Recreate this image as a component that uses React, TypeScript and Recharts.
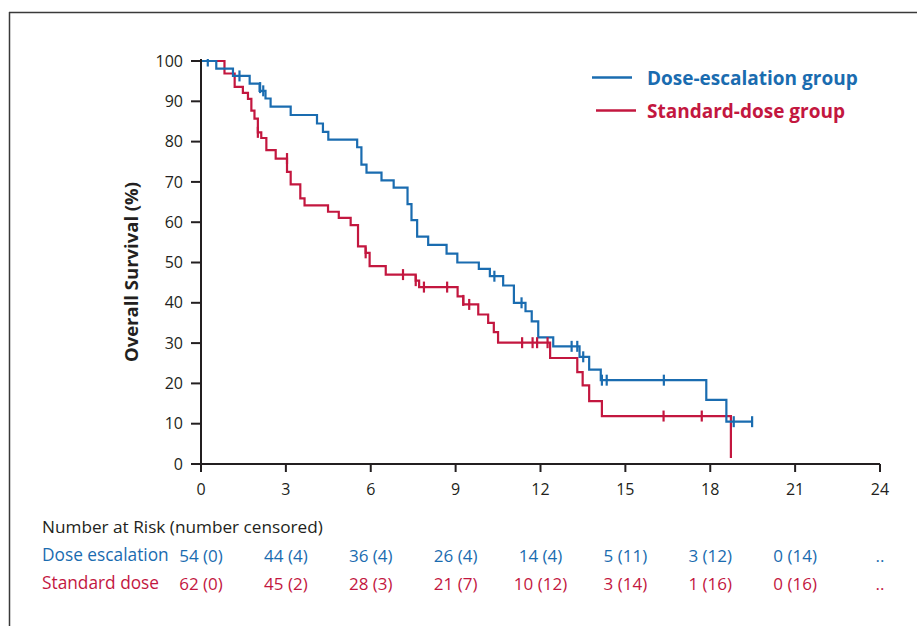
import React from 'react';
import { ComposedChart, Line, Scatter, XAxis, YAxis } from 'recharts';

const BLUE = '#1a6cb0';
const RED = '#c3173f';
const INK = '#231f20';
const FONT = '"Open Sans", "Noto Sans", sans-serif';

const monthTicks = [0, 3, 6, 9, 12, 15, 18, 21, 24];
const survivalTicks = [0, 10, 20, 30, 40, 50, 60, 70, 80, 90, 100];

// Kaplan-Meier step points: [month, survival %]
const doseEscalationSteps: [number, number][] = [
  [0, 100], [0.54, 98.1], [1.13, 96.3], [1.72, 94.4], [2.07, 92.6], [2.28, 90.7],
  [2.46, 88.7], [3.17, 86.6], [4.1, 84.5], [4.31, 82.4], [4.5, 80.5], [5.52, 78.6],
  [5.67, 74.3], [5.85, 72.3], [6.38, 70.4], [6.81, 68.6], [7.3, 64.5], [7.44, 60.5],
  [7.64, 56.4], [8.03, 54.4], [8.68, 52.2], [9.06, 50.0], [9.82, 48.4], [10.21, 46.6],
  [10.68, 44.3], [11.06, 40.0], [11.47, 37.9], [11.69, 35.4], [11.92, 31.4], [12.45, 29.2],
  [13.38, 26.6], [13.72, 23.4], [14.13, 20.8], [17.86, 15.9], [18.57, 10.5], [19.48, 10.5],
];
const doseEscalationCensored: [number, number][] = [
  [0.24, 100], [1.36, 96.3], [2.09, 93.4], [2.2, 92.6], [10.37, 46.6], [11.33, 40.0],
  [13.1, 29.2], [13.3, 29.2], [13.51, 26.6], [14.17, 20.8], [14.34, 20.8], [16.36, 20.8],
  [18.83, 10.5], [19.48, 10.5],
];

const standardDoseSteps: [number, number][] = [
  [0, 100], [0.83, 96.9], [1.19, 93.6], [1.48, 92.1], [1.66, 90.6], [1.78, 87.7],
  [1.89, 85.7], [2.01, 82.3], [2.13, 80.9], [2.31, 77.9], [2.64, 75.8], [3.04, 72.5],
  [3.17, 69.4], [3.51, 65.9], [3.66, 64.2], [4.49, 62.6], [4.87, 61.1], [5.29, 59.3],
  [5.55, 54.0], [5.82, 52.4], [5.96, 49.1], [6.53, 47.0], [7.59, 45.5], [7.71, 43.9],
  [9.07, 41.6], [9.27, 39.6], [9.8, 37.1], [10.15, 35.0], [10.35, 32.7], [10.5, 30.1],
  [12.34, 26.3], [13.3, 22.8], [13.49, 19.5], [13.72, 15.6], [14.17, 11.9], [18.73, 1.5],
];
const standardDoseCensored: [number, number][] = [
  [2.01, 82.3], [3.04, 75.8], [5.82, 52.4], [7.14, 47.0], [7.59, 45.5], [7.88, 43.9],
  [8.7, 43.9], [9.27, 40.6], [9.48, 39.6], [11.35, 30.1], [11.72, 30.1], [11.88, 30.1],
  [12.25, 30.1], [16.35, 11.9], [17.7, 11.9],
];

const doseEscalationAtRisk = ['54 (0)', '44 (4)', '36 (4)', '26 (4)', '14 (4)', '5 (11)', '3 (12)', '0 (14)', '..'];
const standardDoseAtRisk = ['62 (0)', '45 (2)', '28 (3)', '21 (7)', '10 (12)', '3 (14)', '1 (16)', '0 (16)', '..'];

const toPoints = (arr: [number, number][]) => arr.map(([m, v]) => ({ m, v }));
const anchorPoints = monthTicks.map((m) => ({ m, v: 0 }));

const makeCensorMark = (color: string) => (props: any) => {
  const { cx, cy } = props;
  if (cx == null || cy == null) return <g />;
  return <line x1={cx} x2={cx} y1={cy - 5.5} y2={cy + 5.5} stroke={color} strokeWidth={2.2} />;
};
const EmptyShape = () => <g />;

export default function App() {
  return (
    <div style={{ position: 'fixed', left: 0, top: 0, width: 917, height: 626, background: '#fff', fontFamily: FONT }}>
      <ComposedChart
        width={917}
        height={626}
        margin={{ top: 59, right: 37, left: 151, bottom: 18.5 }}
      >
        <XAxis
          xAxisId={0}
          dataKey="m"
          type="number"
          domain={[0, 24]}
          ticks={monthTicks}
          height={85.5}
          tickSize={8}
          tickMargin={12}
          axisLine={{ stroke: INK, strokeWidth: 2 }}
          tickLine={{ stroke: INK, strokeWidth: 2 }}
          tick={{ fill: INK, fontSize: 16, fontFamily: FONT }}
          interval={0}
          allowDataOverflow
        />
        <XAxis
          xAxisId="riskBlue"
          dataKey="m"
          type="number"
          domain={[0, 24]}
          ticks={monthTicks}
          height={28}
          tickSize={0}
          tickMargin={0}
          axisLine={false}
          tickLine={false}
          interval={0}
          tick={{ fill: BLUE, fontSize: 17, fontFamily: FONT }}
          tickFormatter={(_v: any, i: number) => doseEscalationAtRisk[i]}
        />
        <XAxis
          xAxisId="riskRed"
          dataKey="m"
          type="number"
          domain={[0, 24]}
          ticks={monthTicks}
          height={30}
          tickSize={0}
          tickMargin={0}
          axisLine={false}
          tickLine={false}
          interval={0}
          tick={{ fill: RED, fontSize: 17, fontFamily: FONT }}
          tickFormatter={(_v: any, i: number) => standardDoseAtRisk[i]}
        />
        <YAxis
          dataKey="v"
          type="number"
          domain={[0, 100.5]}
          ticks={survivalTicks}
          width={50}
          tickSize={10}
          tickMargin={8}
          interval={0}
          axisLine={{ stroke: INK, strokeWidth: 2 }}
          tickLine={{ stroke: INK, strokeWidth: 2 }}
          tick={{ fill: INK, fontSize: 16, fontFamily: FONT }}
          allowDataOverflow
        />
        <Line
          data={toPoints(standardDoseSteps)}
          dataKey="v"
          type="stepAfter"
          stroke={RED}
          strokeWidth={2.2}
          dot={false}
          activeDot={false}
          isAnimationActive={false}
        />
        <Line
          data={toPoints(doseEscalationSteps)}
          dataKey="v"
          type="stepAfter"
          stroke={BLUE}
          strokeWidth={2.2}
          dot={false}
          activeDot={false}
          isAnimationActive={false}
        />
        <Scatter
          data={toPoints(standardDoseCensored)}
          dataKey="v"
          fill={RED}
          shape={makeCensorMark(RED)}
          isAnimationActive={false}
        />
        <Scatter
          data={toPoints(doseEscalationCensored)}
          dataKey="v"
          fill={BLUE}
          shape={makeCensorMark(BLUE)}
          isAnimationActive={false}
        />
        <Scatter
          xAxisId="riskBlue"
          data={anchorPoints}
          dataKey="v"
          shape={EmptyShape}
          isAnimationActive={false}
        />
        <Scatter
          xAxisId="riskRed"
          data={anchorPoints}
          dataKey="v"
          shape={EmptyShape}
          isAnimationActive={false}
        />
      </ComposedChart>
      <svg
        width={917}
        height={626}
        style={{ position: 'absolute', left: 0, top: 0, pointerEvents: 'none' }}
      >
        <line x1={9} x2={917} y1={12.5} y2={12.5} stroke="#3a3a3a" strokeWidth={1.5} />
        <line x1={9.5} x2={9.5} y1={12} y2={626} stroke="#3a3a3a" strokeWidth={1.5} />

        <text
          transform="translate(138,272) rotate(-90)"
          textAnchor="middle"
          fontFamily={FONT}
          fontWeight={700}
          fontSize={18.5}
          fill={INK}
        >
          Overall Survival (%)
        </text>

        <line x1={592} x2={632} y1={77.5} y2={77.5} stroke={BLUE} strokeWidth={2.5} />
        <text x={647} y={84.5} fontFamily={FONT} fontWeight={700} fontSize={19} fill={BLUE}>
          Dose-escalation group
        </text>
        <line x1={596} x2={636} y1={110.5} y2={110.5} stroke={RED} strokeWidth={2.5} />
        <text x={647} y={117.5} fontFamily={FONT} fontWeight={700} fontSize={19} fill={RED}>
          Standard-dose group
        </text>

        <text x={42} y={533} fontFamily={FONT} fontSize={17.2} fill={INK}>
          Number at Risk (number censored)
        </text>
        <text x={42} y={561} fontFamily={FONT} fontSize={17.3} fill={BLUE}>
          Dose escalation
        </text>
        <text x={42} y={589} fontFamily={FONT} fontSize={17.3} fill={RED}>
          Standard dose
        </text>
      </svg>
    </div>
  );
}
